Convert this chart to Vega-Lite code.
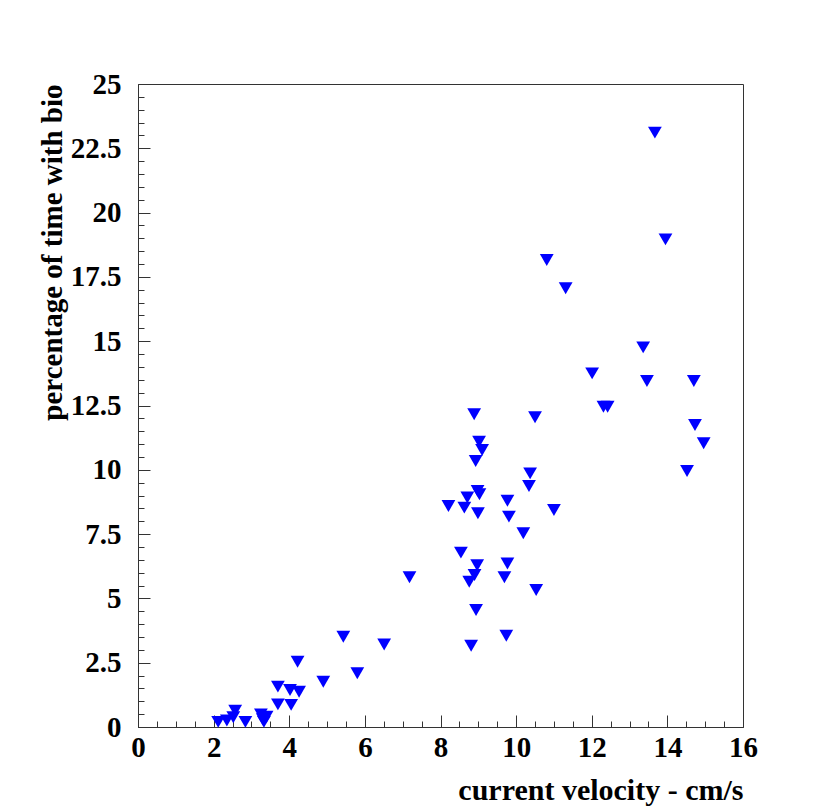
{
  "$schema": "https://vega.github.io/schema/vega-lite/v6.json",
  "autosize": {"type": "none"},
  "padding": {"left": 138, "top": 84, "right": 87, "bottom": 79},
  "width": 605,
  "height": 643,
  "background": "white",
  "config": {"view": {"stroke": "#333333", "strokeWidth": 1}},
  "data": {"values": [
    {"v": 2.12, "p": 0.2}, {"v": 2.35, "p": 0.25}, {"v": 2.52, "p": 0.38}, {"v": 2.57, "p": 0.63},
    {"v": 2.84, "p": 0.2}, {"v": 3.25, "p": 0.49}, {"v": 3.33, "p": 0.2}, {"v": 3.4, "p": 0.4},
    {"v": 3.3, "p": 0.3}, {"v": 3.7, "p": 0.88}, {"v": 3.7, "p": 1.57}, {"v": 4.02, "p": 1.44},
    {"v": 4.26, "p": 1.37}, {"v": 4.05, "p": 0.86}, {"v": 4.22, "p": 2.54}, {"v": 4.9, "p": 1.76},
    {"v": 5.43, "p": 3.51}, {"v": 5.8, "p": 2.09}, {"v": 6.51, "p": 3.21}, {"v": 7.18, "p": 5.82},
    {"v": 8.89, "p": 12.16}, {"v": 10.5, "p": 12.04}, {"v": 9.02, "p": 11.09}, {"v": 9.1, "p": 10.77},
    {"v": 8.93, "p": 10.34}, {"v": 10.37, "p": 9.86}, {"v": 10.34, "p": 9.37}, {"v": 8.98, "p": 9.18},
    {"v": 9.03, "p": 9.05}, {"v": 8.71, "p": 8.92}, {"v": 8.21, "p": 8.59}, {"v": 8.63, "p": 8.53},
    {"v": 8.99, "p": 8.31}, {"v": 9.77, "p": 8.8}, {"v": 9.81, "p": 8.18}, {"v": 11.0, "p": 8.44},
    {"v": 10.19, "p": 7.53}, {"v": 8.54, "p": 6.78}, {"v": 8.97, "p": 6.29}, {"v": 9.77, "p": 6.36},
    {"v": 8.9, "p": 5.91}, {"v": 8.76, "p": 5.65}, {"v": 9.69, "p": 5.82}, {"v": 10.53, "p": 5.33},
    {"v": 8.94, "p": 4.55}, {"v": 9.74, "p": 3.55}, {"v": 8.81, "p": 3.16}, {"v": 13.67, "p": 23.11},
    {"v": 13.95, "p": 18.96}, {"v": 10.81, "p": 18.16}, {"v": 11.31, "p": 17.06}, {"v": 13.36, "p": 14.76},
    {"v": 12.01, "p": 13.75}, {"v": 13.46, "p": 13.45}, {"v": 14.7, "p": 13.45}, {"v": 12.31, "p": 12.45},
    {"v": 12.42, "p": 12.45}, {"v": 14.73, "p": 11.74}, {"v": 14.96, "p": 11.03}, {"v": 14.52, "p": 9.95}
  ]},
  "mark": {"type": "point", "shape": "triangle-down", "filled": true, "color": "#0000ff", "opacity": 1, "size": 190},
  "encoding": {
    "x": {
      "field": "v", "type": "quantitative",
      "scale": {"domain": [0, 16], "nice": false, "zero": false},
      "axis": {
        "title": "current velocity - cm/s",
        "titleFont": "Liberation Serif", "titleFontWeight": "bold", "titleFontSize": 30, "titleColor": "black",
        "titleAnchor": "end", "titleAlign": "right", "titleX": 605, "titleY": 63, "titleBaseline": "middle",
        "values": [0,0.5,1,1.5,2,2.5,3,3.5,4,4.5,5,5.5,6,6.5,7,7.5,8,8.5,9,9.5,10,10.5,11,11.5,12,12.5,13,13.5,14,14.5,15,15.5,16],
        "labelExpr": "datum.value % 2 == 0 ? format(datum.value, '~g') : ''",
        "labelFont": "Liberation Serif", "labelFontWeight": "bold", "labelFontSize": 29, "labelColor": "black",
        "tickSize": {"condition": {"test": "datum.value % 2 == 0", "value": -12}, "value": -6},
        "tickColor": "#333333", "domainColor": "#333333",
        "labelPadding": 18, "grid": false, "labelFlush": false, "labelOverlap": false
      }
    },
    "y": {
      "field": "p", "type": "quantitative",
      "scale": {"domain": [0, 25], "nice": false, "zero": false},
      "axis": {
        "title": "percentage of time with bio",
        "titleFont": "Liberation Serif", "titleFontWeight": "bold", "titleFontSize": 29, "titleColor": "black",
        "titleAngle": -90, "titleAlign": "right", "titleX": -86, "titleY": 0, "titleBaseline": "middle",
        "values": [0,0.5,1,1.5,2,2.5,3,3.5,4,4.5,5,5.5,6,6.5,7,7.5,8,8.5,9,9.5,10,10.5,11,11.5,12,12.5,13,13.5,14,14.5,15,15.5,16,16.5,17,17.5,18,18.5,19,19.5,20,20.5,21,21.5,22,22.5,23,23.5,24,24.5,25],
        "labelExpr": "datum.value % 2.5 == 0 ? format(datum.value, '~g') : ''",
        "labelFont": "Liberation Serif", "labelFontWeight": "bold", "labelFontSize": 29, "labelColor": "black",
        "tickSize": {"condition": {"test": "datum.value % 2.5 == 0", "value": -12}, "value": -6},
        "tickColor": "#333333", "domainColor": "#333333",
        "labelPadding": 29, "grid": false, "labelFlush": false, "labelOverlap": false
      }
    }
  }
}
